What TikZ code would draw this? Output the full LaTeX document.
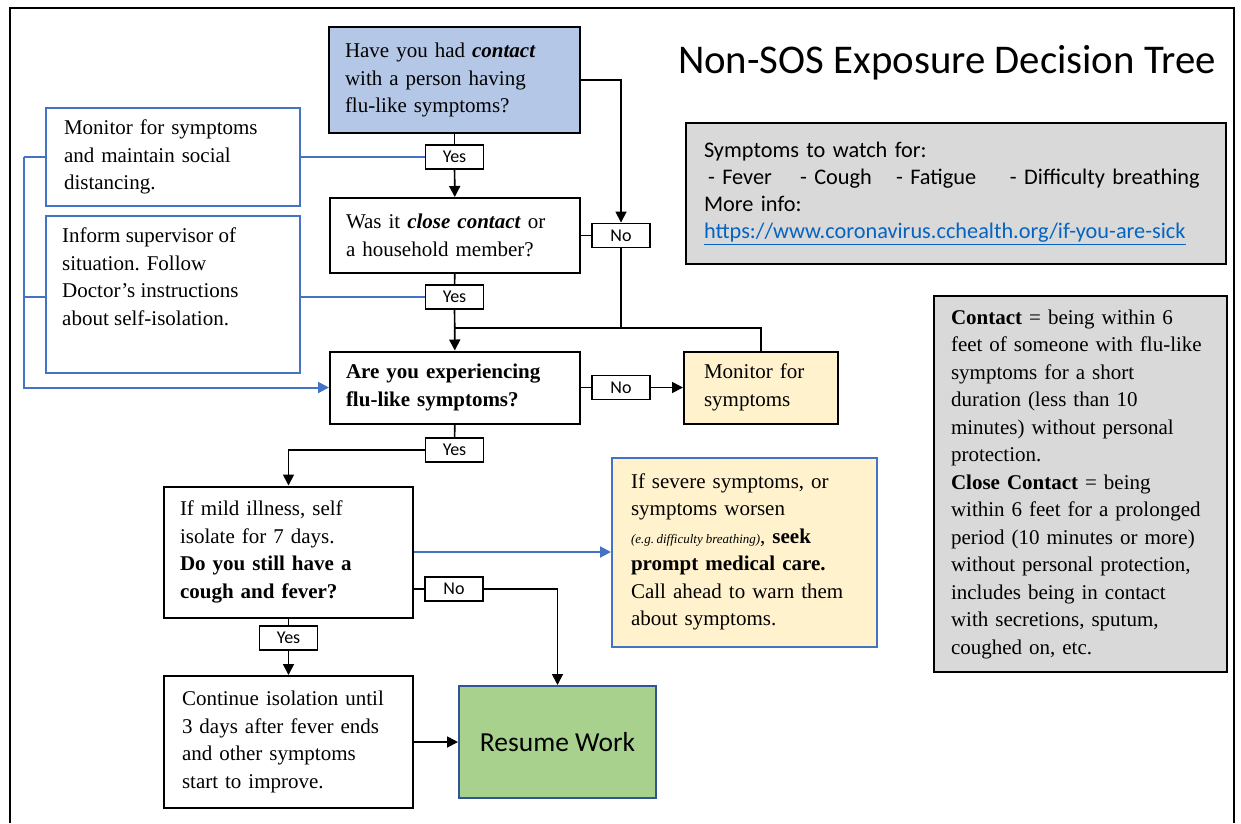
\documentclass[tikz,border=0pt]{standalone}
\usepackage{fontspec}
\setmainfont{Liberation Serif}
\newfontfamily\calfont{Carlito}
\usetikzlibrary{arrows.meta,calc}
\definecolor{qblue}{HTML}{B4C7E7}
\definecolor{lblue}{HTML}{4472C4}
\definecolor{pale}{HTML}{FFF2CC}
\definecolor{lgray}{HTML}{D9D9D9}
\definecolor{lgreen}{HTML}{A9D18E}
\definecolor{dblue}{HTML}{2F5597}
\definecolor{urlblue}{HTML}{0563C1}
\begin{document}
\begin{tikzpicture}[x=1pt,y=-1pt,
  serif/.style={font=\fontsize{21}{27.5}\selectfont},
  bx/.style={draw, line width=2pt, inner ysep=0pt, align=left, serif},
  bbx/.style={bx, draw=lblue},
  lab/.style={draw, line width=1.9pt, fill=white, minimum width=58pt, minimum height=24pt, inner sep=0pt, font=\calfont\fontsize{18}{18}\selectfont},
  conn/.style={line width=1.7pt},
  arr/.style={conn, -{Triangle[length=11pt,width=11pt]}},
  bconn/.style={line width=2pt, lblue},
  barr/.style={bconn, -{Triangle[length=11pt,width=11pt]}},
]
\useasboundingbox (0,0) rectangle (1241,823);
\draw[line width=2pt] (10,823) -- (10,8) -- (1234,8) -- (1234,823);

% title
\node[font=\calfont\fontsize{40.8}{44}\selectfont, inner sep=0pt] (title) at (947,63) {Non-SOS Exposure Decision Tree};

% main column
\node[bx, fill=qblue, text width=219pt, inner xsep=16pt, minimum height=106pt] (q1) at (454.5,80)
  {Have you had \textbf{\textit{contact}}\\ with a person having\\ flu-like symptoms?};
\node[bx, text width=218pt, inner xsep=16pt, minimum height=75pt] (q2) at (455,235.5)
  {Was it \textbf{\textit{close contact}} or\\ a household member?};
\node[bx, text width=218pt, inner xsep=16pt, minimum height=72pt, font=\fontsize{21}{27.5}\selectfont\bfseries] (q3) at (455,387.5)
  {Are you experiencing\\ flu-like symptoms?};
\node[bx, fill=pale, text width=114pt, inner xsep=20pt, minimum height=72pt] (mon) at (761,387.5)
  {Monitor for\\ symptoms};
\node[bx, text width=217pt, inner xsep=16pt, minimum height=131pt] (q4) at (288.5,552)
  {If mild illness, self\\ isolate for 7 days.\\ \textbf{Do you still have a}\\ \textbf{cough and fever?}};
\node[bbx, fill=pale, text width=227pt, inner xsep=19pt, minimum height=189pt] (sev) at (744.5,552)
  {If severe symptoms, or\\ symptoms worsen\\ \mbox{\fontsize{13}{14}\selectfont\itshape (e.g.\hspace{2.5pt}difficulty\hspace{3pt}breathing)}, \textbf{seek}\\ \textbf{prompt medical care.}\\ Call ahead to warn them\\ about symptoms.};
\node[bx, text width=213pt, inner xsep=18pt, minimum height=132pt] (q5) at (288.5,742)
  {Continue isolation until\\ 3 days after fever ends\\ and other symptoms\\ start to improve.};
\node[draw=dblue, line width=2pt, fill=lgreen, minimum width=197pt, minimum height=112pt, font=\calfont\fontsize{27.5}{30}\selectfont] (rw) at (557.5,742) {Resume Work};

% left blue boxes
\node[bbx, text width=218pt, inner xsep=18pt, minimum height=98pt] (m1) at (173,157)
  {Monitor for symptoms\\ and maintain social\\ distancing.};
\node[bbx, minimum width=254pt, minimum height=157pt] (m2) at (173,294.5) {};
\node[serif, align=left, anchor=north west, inner sep=0pt] (m2t) at (62,228)
  {Inform supervisor of\\ situation. Follow\\ Doctor's instructions\\ about self-isolation.};

% right info boxes
\node[draw, line width=2pt, fill=lgray, text width=504pt, inner xsep=18pt, minimum height=141pt, align=left, font=\calfont\fontsize{22.3}{27}\selectfont] (sym) at (956,193.5)
  {Symptoms to watch for:\\
   \hspace*{4pt}\makebox[92pt][l]{- Fever}\makebox[96pt][l]{- Cough}\makebox[114pt][l]{- Fatigue}- Difficulty breathing\\
   More info:\\
   \textcolor{urlblue}{\underline{https://www.coronavirus.cchealth.org/if-you-are-sick}}};
\node[bx, fill=lgray, text width=259pt, inner xsep=17pt, minimum height=376pt] (con) at (1080.5,484)
  {\textbf{Contact} = being within 6\\ feet of someone with flu-like\\ symptoms for a short\\ duration (less than 10\\ minutes) without personal\\ protection.\\ \textbf{Close Contact} = being\\ within 6 feet for a prolonged\\ period (10 minutes or more)\\ without personal protection,\\ includes being in contact\\ with secretions, sputum,\\ coughed on, etc.};

% yes / no labels
\node[lab] (y1) at (454.5,157) {Yes};
\node[lab] (y2) at (454.5,297) {Yes};
\node[lab] (y3) at (454.5,450) {Yes};
\node[lab] (y4) at (288.5,638) {Yes};
\node[lab] (n1) at (621,235.5) {No};
\node[lab] (n3) at (621,387.5) {No};
\node[lab] (n4) at (454,589) {No};

% black connectors
\draw[conn] (q1) -- (y1);
\draw[arr] (y1) -- (q2);
\draw[arr] (q1.east) -| (n1);
\draw[conn] (q2) -- (n1);
\coordinate (j) at (454.5,328);
\draw[conn] (n1) |- (j);
\draw[conn] (mon) |- (j);
\draw[conn] (q2) -- (y2);
\draw[arr] (y2) -- (q3);
\draw[conn] (q3) -- (n3);
\draw[arr] (n3) -- (mon);
\draw[conn] (q3) -- (y3);
\draw[arr] (y3) -| (q4);
\draw[conn] (q4.east |- n4) -- (n4);
\draw[arr] (n4) -| (rw);
\draw[conn] (q4) -- (y4);
\draw[arr] (y4) -- (q5);
\draw[arr] (q5) -- (rw);

% blue connectors
\draw[barr] (q4) -- (sev);
\draw[bconn] (y1) -- (m1);
\draw[bconn] (y2) -- (y2 -| m2.east);
\coordinate (bl) at (24,157);
\draw[bconn] (m1) -- (bl);
\draw[bconn] (m2.west |- y2) -- (bl |- y2);
\draw[barr] (bl) |- (q3);
\end{tikzpicture}
\end{document}
